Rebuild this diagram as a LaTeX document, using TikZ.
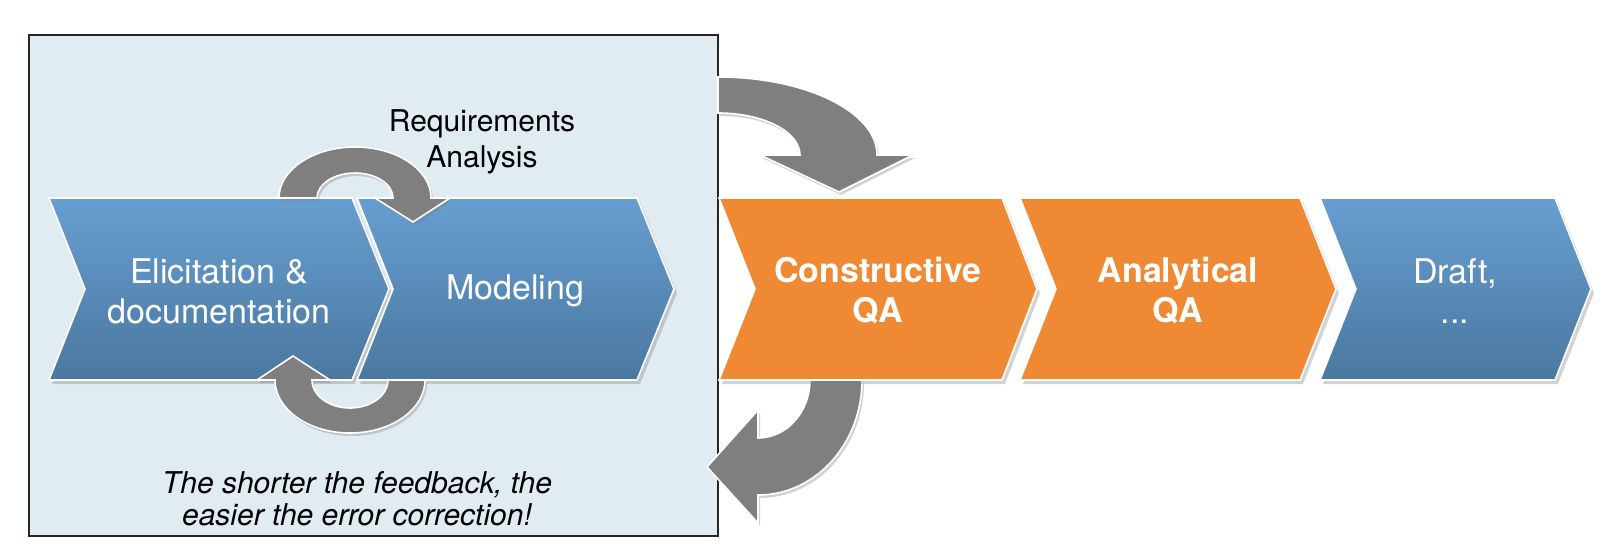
\documentclass[tikz,border=0pt]{standalone}
\usepackage{fontspec}
\setmainfont{TeX Gyre Heros}
\usetikzlibrary{shadows}

\definecolor{boxblue}{HTML}{E1EBF2}
\definecolor{steptop}{HTML}{679ED1}
\definecolor{stepbottom}{HTML}{4A789F}
\definecolor{steporange}{HTML}{EF8933}
\definecolor{arrowgray}{HTML}{7F7F7F}

\begin{document}
\begin{tikzpicture}[x=0.5pt,y=-0.5pt,
	every shadow/.style={opacity=0.35},
	bluestep/.style={draw=white,line width=0.8pt,top color=steptop,bottom color=stepbottom,drop shadow={shadow xshift=1.5pt,shadow yshift=-2pt}},
	orangestep/.style={draw=white,line width=0.8pt,fill=steporange,drop shadow={shadow xshift=1.5pt,shadow yshift=-2pt}},
	grayarrow/.style={draw=white,line width=0.8pt,fill=arrowgray,drop shadow={shadow xshift=1pt,shadow yshift=-1.5pt}},
	steplabel/.style={text=white,align=center,font=\fontsize{17}{20}\selectfont},
	boldlabel/.style={steplabel,font=\fontsize{17}{20}\selectfont\bfseries},
	notelabel/.style={align=center,font=\fontsize{15}{18}\selectfont}]
	\useasboundingbox (0,0) rectangle (1620,546);

	% requirements analysis area
	\draw[fill=boxblue,draw=black!85,line width=0.8pt] (29,35) rectangle (718,536);

	% feedback from constructive QA
	\path[grayarrow] (862,380) arc[start angle=0,end angle=90,x radius=104,y radius=115]
		-- (758,523) -- (707,467) -- (758,410) -- (758,438)
		arc[start angle=90,end angle=0,x radius=52,y radius=58] -- cycle;
	% handover to constructive QA
	\path[grayarrow] (718,77) arc[start angle=-90,end angle=0,x radius=159,y radius=78]
		-- (913,155) -- (839,192) -- (760,155) -- (800,155)
		arc[start angle=0,end angle=-90,x radius=82,y radius=42] -- cycle;

	% process steps
	\path[bluestep] (49,198) -- (352,198) -- (389,289) -- (352,380) -- (49,380) -- (85,289) -- cycle;
	\path[bluestep] (357,198) -- (637,198) -- (674,289) -- (637,380) -- (357,380) -- (393,289) -- cycle;
	\path[orangestep] (719,198) -- (1002,198) -- (1037,289) -- (1002,380) -- (719,380) -- (755,289) -- cycle;
	\path[orangestep] (1020,198) -- (1300,198) -- (1336,289) -- (1300,380) -- (1020,380) -- (1056,289) -- cycle;
	\path[bluestep] (1320,198) -- (1555,198) -- (1591,289) -- (1555,380) -- (1320,380) -- (1356,289) -- cycle;

	% short loops between the two steps
	\path[grayarrow] (279,198) arc[start angle=180,end angle=360,x radius=76,y radius=51]
		-- (450,198) -- (413,222) -- (375,198) -- (393,198)
		arc[start angle=0,end angle=-180,x radius=38,y radius=25] -- cycle;
	\path[grayarrow] (425,380) arc[start angle=0,end angle=180,x radius=75,y radius=53]
		-- (257,380) -- (293,356) -- (330,380) -- (312,380)
		arc[start angle=180,end angle=0,x radius=38,y radius=28] -- cycle;

	\node[steplabel] (elicit) at (219,291) {Elicitation \&\\documentation};
	\node[steplabel] (model) at (515,291) {Modeling};
	\node[boldlabel] (conqa) at (878,291) {Constructive\\QA};
	\node[boldlabel] (anaqa) at (1178,291) {Analytical\\QA};
	\node[steplabel] (draft) at (1455,291) {Draft,\\...};
	\node[notelabel] (reqlabel) at (482,142) {Requirements\\Analysis};
	\node[notelabel,font=\fontsize{15}{16}\selectfont\itshape] (feedback) at (357,499) {The shorter the feedback, the\\easier the error correction!};
\end{tikzpicture}
\end{document}
